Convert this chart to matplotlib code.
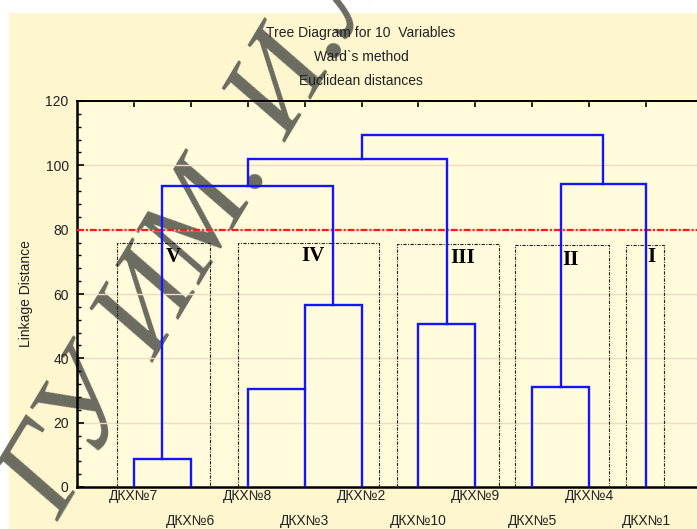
import matplotlib
matplotlib.use("Agg")
import matplotlib.pyplot as plt
from matplotlib.patches import Rectangle
from matplotlib.ticker import MultipleLocator

# Leaves in dendrogram order (left to right)
leaf_labels = ["ДКХ№7", "ДКХ№6", "ДКХ№8", "ДКХ№3", "ДКХ№2",
               "ДКХ№10", "ДКХ№9", "ДКХ№5", "ДКХ№4", "ДКХ№1"]

# Merge steps: ids 0..9 are leaves, merged clusters get ids 10, 11, ...
merge_left = [0, 2, 7, 5, 11, 10, 12, 15, 17]
merge_right = [1, 3, 8, 6, 4, 14, 9, 13, 16]
merge_height = [8.6, 30.4, 31.0, 50.7, 56.5, 93.6, 94.1, 102.0, 109.3]
# x position (in leaf units) where each merged cluster hangs from its parent
merge_link = [1.5, 4.0, 8.5, 6.5, 4.5, 3.0, 9.25, 5.0, 7.1]

cut_height = 80

# Cluster groups outlined under the cut line
group_names = ["V", "IV", "III", "II", "I"]
group_left = [0.70, 2.83, 5.62, 7.69, 9.65]
group_right = [2.34, 5.30, 7.42, 9.35, 10.32]
group_top = [75.7, 75.7, 75.6, 75.2, 75.2]
group_label_x = [1.70, 4.15, 6.77, 8.68, 10.09]
group_label_y = [71.5, 71.8, 71.2, 70.6, 71.5]

title_lines = ["Tree Diagram for 10  Variables", "Ward`s method", "Euclidean distances"]

sans = ["Liberation Sans", "DejaVu Sans"]
serif = ["Liberation Serif", "DejaVu Serif"]

fig = plt.figure(figsize=(6.97, 5.29), dpi=100, facecolor="white")
fig.patches.append(Rectangle((9 / 697, 0), 1, 1 - 13 / 529, transform=fig.transFigure,
                             facecolor="#fef6cf", edgecolor="none", zorder=-1))

ax = fig.add_axes([77 / 697, 42 / 529, 626 / 697, 386 / 529])
ax.set_facecolor("#fffbdb")

# positions of every node (leaves at 1..10)
pos = {i: i + 1 for i in range(len(leaf_labels))}
top = {i: 0.0 for i in range(len(leaf_labels))}
blue = "#1414ff"
for k, (a, b, h) in enumerate(zip(merge_left, merge_right, merge_height)):
    node = len(leaf_labels) + k
    ax.plot([pos[a], pos[a], pos[b], pos[b]], [top[a], h, h, top[b]],
            color=blue, lw=1.7, solid_joinstyle="miter", zorder=4)
    pos[node] = merge_link[k]
    top[node] = h

ax.axhline(cut_height, color="#ff1a1a", lw=1.6, ls=(0, (3.1, 0.9, 0.9, 0.9)), zorder=3.5)

for name, x0, x1, yt, lx, ly in zip(group_names, group_left, group_right, group_top,
                                    group_label_x, group_label_y):
    ax.plot([x0, x0, x1, x1], [0, yt, yt, 0], color="#222222", lw=0.8,
            ls=(0, (3, 1.2, 1, 1.2)), zorder=3)
    ax.text(lx, ly, name, family=serif, fontsize=15, fontweight="bold",
            ha="center", va="center", zorder=5)

ax.set_xlim(0, 11)
ax.set_ylim(0, 120)
ax.yaxis.set_major_locator(MultipleLocator(20))
ax.yaxis.set_minor_locator(MultipleLocator(4))
ax.set_xticks(range(1, len(leaf_labels) + 1))
ax.tick_params(axis="x", which="both", top=True, bottom=True, direction="in",
               length=4, width=1.2, labelbottom=False)
ax.tick_params(axis="y", which="major", direction="in", length=5, width=1.2,
               pad=6, labelsize=10)
ax.tick_params(axis="y", which="minor", direction="in", length=3, width=1)
for lab in ax.get_yticklabels():
    lab.set_family(sans)
    lab.set_color("#222222")

ax.grid(axis="y", color="#f3d8c2", lw=1, zorder=1)
ax.spines["right"].set_visible(False)
ax.spines["left"].set_linewidth(1.8)
ax.spines["bottom"].set_linewidth(1.8)
ax.spines["top"].set_linewidth(1.4)

ax.set_ylabel("Linkage Distance", family=sans, fontsize=10, color="#222222")
ax.yaxis.set_label_coords(-0.07, 0.5)

# staggered leaf labels
for i, name in enumerate(leaf_labels):
    dy = -1.5 if i % 2 == 0 else -19.5
    ax.annotate(name, xy=(i + 1, 0), xycoords=("data", "axes fraction"),
                xytext=(0, dy), textcoords="offset points", ha="center", va="top",
                family=sans, fontsize=10, color="#222222", annotation_clip=False)

for j, line in enumerate(title_lines):
    fig.text(361 / 697, 1 - (33 + 24 * j) / 529, line, family=sans, fontsize=10,
             ha="center", va="center", color="#222222")

# library stamp across the page
ax.text(58 / 697, 1 - 522 / 529, "ГУ ИМ. И.Л.", transform=fig.transFigure,
        family=serif, style="italic", fontsize=90, color="#6c6b61",
        rotation=59, rotation_mode="anchor", ha="left", va="baseline",
        clip_on=False, zorder=1.2)

fig.savefig("out.png", dpi=100, facecolor=fig.get_facecolor())
